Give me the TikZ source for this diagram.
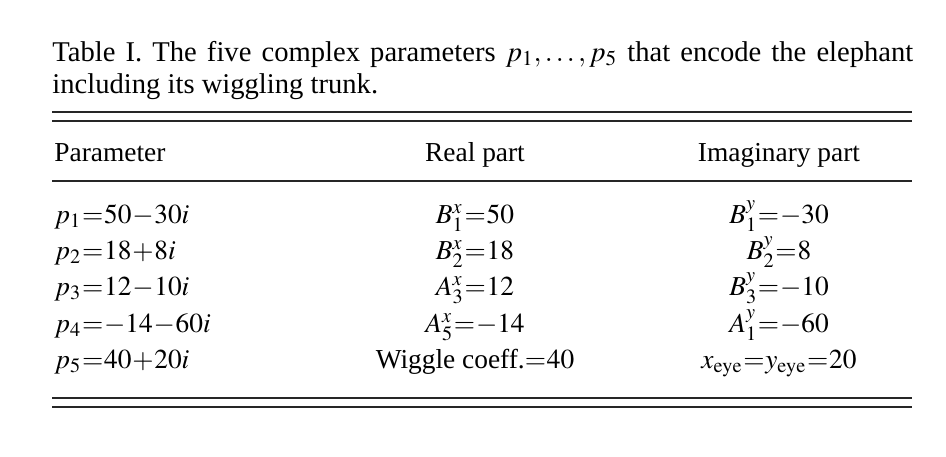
\documentclass[tikz,border=0pt]{standalone}
\usepackage{mathptmx}
\usepackage{fontspec}
\setmainfont{Liberation Serif}
\usetikzlibrary{positioning}

\thickmuskip=0.5mu
\medmuskip=0.5mu

\tikzset{
  cell/.style={inner sep=0pt, anchor=base, font=\fontsize{13.7pt}{16pt}\selectfont},
  leftcell/.style={cell, anchor=base west},
  caption/.style={inner sep=0pt, anchor=base west, text width=430.5pt, align=justify,
    font=\fontsize{14.3pt}{16pt}\selectfont},
  rule/.style={line width=0.75pt, black!85},
}

\begin{document}
\begin{tikzpicture}[x=0.5pt,y=-0.5pt]
  \useasboundingbox (0,0) rectangle (946,456);

  \node[caption] (cap) at (52,61) {Table I. The five complex parameters $p_1,\dots,p_5$ that encode the elephant\linebreak including its wiggling trunk.};

  \foreach \y in {112,121,181,398,407}
    \draw[rule] (52,\y) -- (912,\y);

  \node[leftcell] (hparam) at (54,161) {Parameter};
  \node[cell] (hreal) at (475,161) {Real part};
  \node[cell] (himag) at (779,161) {Imaginary part};

  \node[leftcell] (p1) at (54,223) {$p_1=50-30i$};
  \node[cell] (re1) at (475,223) {$B^x_1=50$};
  \node[cell] (im1) at (779,223) {$B^y_1=-30$};

  \node[leftcell] (p2) at (54,259) {$p_2=18+8i$};
  \node[cell] (re2) at (475,259) {$B^x_2=18$};
  \node[cell] (im2) at (779,259) {$B^y_2=8$};

  \node[leftcell] (p3) at (54,295) {$p_3=12-10i$};
  \node[cell] (re3) at (475,295) {$A^x_3=12$};
  \node[cell] (im3) at (779,295) {$B^y_3=-10$};

  \node[leftcell] (p4) at (54,332) {$p_4=-14-60i$};
  \node[cell] (re4) at (475,332) {$A^x_5=-14$};
  \node[cell] (im4) at (779,332) {$A^y_1=-60$};

  \node[leftcell] (p5) at (54,368) {$p_5=40+20i$};
  \node[cell] (re5) at (475,368) {Wiggle coeff.$=40$};
  \node[cell] (im5) at (779,368) {$x_{\mathrm{eye}}=y_{\mathrm{eye}}=20$};
\end{tikzpicture}
\end{document}
